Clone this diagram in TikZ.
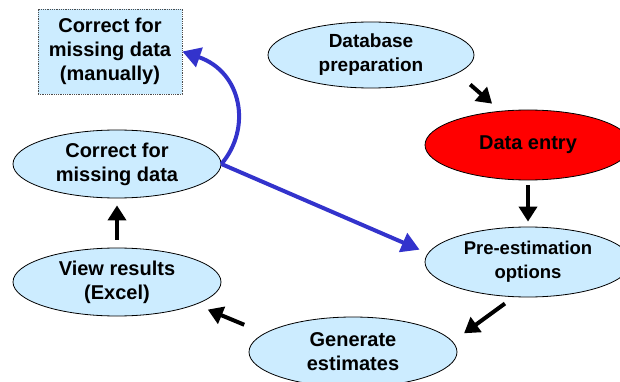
\documentclass[tikz,border=0pt]{standalone}
\usepackage{fontspec}
\setmainfont{Liberation Sans}
\usetikzlibrary{shapes.geometric,arrows.meta}

\definecolor{paleblue}{RGB}{204,236,255}
\definecolor{loopblue}{RGB}{51,51,204}

\begin{document}
\begin{tikzpicture}[x = 1pt, y = -1pt,
    blob/.style = {ellipse, draw = black, line width = 0.8pt, fill = paleblue,
        inner sep = 0pt, align = center,
        font = \fontsize{20}{24}\selectfont\bfseries},
    hotblob/.style = {blob, fill = red},
    note/.style = {rectangle, draw = black!70, densely dotted, line width = 0.8pt,
        fill = paleblue, inner sep = 0pt, align = center,
        minimum width = 144pt, minimum height = 85pt,
        font = \fontsize{20}{24}\selectfont\bfseries},
    flow/.style = {line width = 4pt, -{Triangle[length = 15pt, width = 18pt]}},
    jump/.style = {draw = loopblue, line width = 4pt,
        -{Triangle[length = 18pt, width = 20pt]}}
]

        \useasboundingbox (0,0) rectangle (620,382);

        % The ellipses of the cycle, clockwise from the top.
        \node[blob, minimum width = 206pt, minimum height = 66pt,
            font = \fontsize{19}{24}\selectfont\bfseries]
            (db) at (371,55) {Database\\preparation};
        \node[hotblob, minimum width = 206pt, minimum height = 70pt]
            (entry) at (528,145) {Data entry};
        \node[blob, minimum width = 206pt, minimum height = 70pt,
            font = \fontsize{18.5}{24}\selectfont\bfseries]
            (pre) at (528,262) {Pre-estimation\\options};
        \node[blob, minimum width = 208pt, minimum height = 70pt]
            (gen) at (353,352) {Generate\\estimates};
        \node[blob, minimum width = 208pt, minimum height = 68pt]
            (view) at (117,282) {View results\\(Excel)};
        \node[blob, minimum width = 208pt, minimum height = 68pt]
            (correct) at (117,164) {Correct for\\missing data};

        % The manual step, a box.
        \node[note] (manual) at (110,51.5) {Correct for\\missing data\\(manually)};

        % Black arrows round the cycle.
        \draw[flow, shorten <= 17pt, shorten >= 11pt] (db.-12) -- (entry.129);
        \draw[flow, shorten <= 5pt, shorten >= 5pt] (entry.south) -- (pre.north);
        \draw[flow, shorten <= 11pt, shorten >= 14pt] (pre.-112) -- (gen.6);
        \draw[flow, shorten <= 22pt, shorten >= 13pt] (gen.168) -- (view.-16);
        \draw[flow, shorten <= 8pt, shorten >= 7pt] (view.north) -- (correct.south);

        % Blue arrows leaving the correction step.
        \draw[jump] (correct.east) .. controls (252,128) and (242,72) .. (manual.east);
        \draw[jump, shorten >= 9pt] (correct.east) -- (pre.175);
    \end{tikzpicture}
\end{document}
